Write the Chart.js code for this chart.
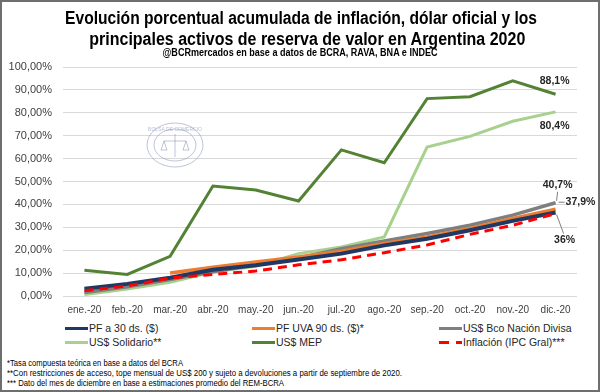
<html>
<head>
<meta charset="utf-8">
<title>Inflación y activos 2020</title>
<script src="https://cdn.jsdelivr.net/npm/chart.js"></script>
<style>
	body { margin: 0; width: 600px; height: 392px; position: relative; background: #fff; overflow: hidden; font-family: "Liberation Sans", Arial, sans-serif; }
	#frame { position: absolute; left: 0; top: 0; width: 600px; height: 392px; box-sizing: border-box; border: 2px solid #6e6e6e; pointer-events: none; }
	canvas { position: absolute; left: 0; top: 0; }
	.fit { position: absolute; white-space: nowrap; }
	.title { font-family: "Liberation Sans Narrow", "Liberation Sans", sans-serif; font-weight: bold; font-size: 18px; line-height: 20px; color: #000; transform-origin: center; }
	.sub { font-family: "Liberation Sans Narrow", "Liberation Sans", sans-serif; font-weight: bold; font-size: 10px; line-height: 12px; color: #000; transform-origin: center; }
	.note { font-family: "Liberation Sans Narrow", "Liberation Sans", sans-serif; font-size: 8.5px; line-height: 10px; color: #000; left: 7px; transform-origin: left; }
	.leg { position: absolute; font-size: 10.5px; line-height: 12px; color: #262626; white-space: nowrap; }
	.sw { position: absolute; height: 3px; }
</style>
</head>
<body>
	<canvas id="chart" width="600" height="322"></canvas>
	<div class="fit title" data-w="472" data-cx="301" style="top:8px">Evolución porcentual acumulada de inflación, dólar oficial y los</div>
	<div class="fit title" data-w="436" data-cx="307" style="top:29px">principales activos de reserva de valor en Argentina 2020</div>
	<div class="fit sub" data-w="275" data-cx="300" style="top:47px">@BCRmercados en base a datos de BCRA, RAVA, BNA e INDEC</div>
	<div id="legend"></div>
	<div class="fit note" data-w="176" style="top:358px">*Tasa compuesta teórica en base a datos del BCRA</div>
	<div class="fit note" data-w="395" style="top:368px">**Con restricciones de acceso, tope mensual de US$ 200 y sujeto a devoluciones  a partir de septiembre de 2020.</div>
	<div class="fit note" data-w="277" style="top:378px">*** Dato del mes de diciembre en base a estimaciones promedio del REM-BCRA</div>
	<div id="frame"></div>
<script>
	// valores en % acumulado en el año
	const months = ['ene.-20', 'feb.-20', 'mar.-20', 'abr.-20', 'may.-20', 'jun.-20', 'jul.-20', 'ago.-20', 'sep.-20', 'oct.-20', 'nov.-20', 'dic.-20'];
	const pf30 = [3.2, 5.3, 8.0, 11.5, 13.4, 15.9, 18.5, 22.1, 25.0, 28.7, 32.8, 36.5];
	const pfUva = [null, null, 10.0, 12.6, 14.8, 17.0, 19.6, 22.9, 25.8, 29.5, 33.9, 37.9];
	const bcoNacion = [1.5, 4.0, 7.2, 10.6, 13.6, 16.6, 20.7, 24.0, 27.3, 30.9, 35.3, 40.7];
	const solidario = [0.6, 3.1, 6.0, 10.5, 13.0, 18.5, 21.4, 25.8, 65.0, 69.7, 76.3, 80.4];
	const mep = [11.2, 9.4, 17.3, 48.0, 46.3, 41.5, 63.8, 58.2, 86.2, 87.0, 94.0, 88.1];
	const inflacion = [2.3, 4.4, 7.8, 9.4, 10.9, 13.6, 15.8, 18.9, 22.3, 26.9, 30.9, 36.0];
	const seriesNames = ['PF a 30 ds. ($)', 'PF UVA 90 ds. ($)*', 'US$ Bco Nación Divisa', 'US$ Solidario**', 'US$ MEP', 'Inflación (IPC Gral)***'];
	const endLabels = ['36%', '37,9%', '40,7%', '80,4%', '88,1%'];
	const yMax = 100;
	const yStep = 10;

	const endLabelPlugin = {
		id: 'endLabels',
		afterDatasetsDraw(chart) {
			const ctx = chart.ctx;
			const x = chart.scales.x.getPixelForValue(months.length - 1);
			const y = chart.scales.y;
			ctx.save();
			ctx.font = 'bold 10.5px "Liberation Sans", Arial, sans-serif';
			ctx.fillStyle = '#262626';
			ctx.textBaseline = 'middle';
			ctx.textAlign = 'center';
			ctx.fillText(endLabels[4], x - 1, y.getPixelForValue(mep[11]) - 13);
			ctx.fillText(endLabels[3], x - 1, y.getPixelForValue(solidario[11]) + 14);
			ctx.fillText(endLabels[2], x + 2, y.getPixelForValue(bcoNacion[11]) - 18);
			ctx.fillText(endLabels[0], x + 9, y.getPixelForValue(inflacion[11]) + 27);
			ctx.textAlign = 'left';
			ctx.fillText(endLabels[1], x + 10, y.getPixelForValue(pfUva[11]) - 7);
			// lineas guia
			ctx.strokeStyle = '#7f7f7f';
			ctx.lineWidth = 1;
			ctx.beginPath();
			let yb = y.getPixelForValue(bcoNacion[11]);
			ctx.moveTo(x + 2, yb - 11); ctx.lineTo(x + 1, yb - 2);
			let yo = y.getPixelForValue(pfUva[11]) - 7;
			ctx.moveTo(x + 3, yo); ctx.lineTo(x + 9, yo);
			let yi = y.getPixelForValue(inflacion[11]);
			ctx.moveTo(x + 1, yi + 1); ctx.lineTo(x + 8, yi + 20);
			ctx.stroke();
			ctx.restore();
		}
	};

	// sello de agua de la Bolsa de Comercio de Rosario (aprox.)
	const sealPlugin = {
		id: 'seal',
		beforeDatasetsDraw(chart) {
			const ctx = chart.ctx;
			ctx.save();
			ctx.strokeStyle = 'rgba(110, 125, 165, 0.45)';
			ctx.lineWidth = 1;
			ctx.beginPath(); ctx.ellipse(175, 145, 28, 22, 0, 0, Math.PI * 2); ctx.stroke();
			ctx.beginPath(); ctx.ellipse(175, 145, 21, 16, 0, 0, Math.PI * 2); ctx.stroke();
			ctx.beginPath();
			ctx.moveTo(175, 134); ctx.lineTo(175, 157);
			ctx.moveTo(164, 141); ctx.lineTo(186, 141);
			ctx.moveTo(164, 141); ctx.lineTo(161, 150); ctx.lineTo(167, 150); ctx.closePath();
			ctx.moveTo(186, 141); ctx.lineTo(183, 150); ctx.lineTo(189, 150); ctx.closePath();
			ctx.stroke();
			ctx.font = '5px "Liberation Sans", Arial, sans-serif';
			ctx.fillStyle = 'rgba(110, 125, 165, 0.5)';
			ctx.textAlign = 'center';
			ctx.fillText('BOLSA DE COMERCIO', 175, 131);
			ctx.restore();
		}
	};

	const chart = new Chart(document.getElementById('chart'), {
		type: 'line',
		data: {
			labels: months,
			datasets: [
				{ label: seriesNames[0], data: pf30, borderColor: '#1f3864', borderWidth: 4, order: 1 },
				{ label: seriesNames[1], data: pfUva, borderColor: '#ed7d31', borderWidth: 3.5, order: 2 },
				{ label: seriesNames[2], data: bcoNacion, borderColor: '#7f7f7f', borderWidth: 3.5, order: 3 },
				{ label: seriesNames[3], data: solidario, borderColor: '#a9d18e', borderWidth: 3, order: 4 },
				{ label: seriesNames[4], data: mep, borderColor: '#548235', borderWidth: 3, order: 5 },
				{ label: seriesNames[5], data: inflacion, borderColor: '#ff0000', borderWidth: 3, borderDash: [9, 6], order: 0 }
			]
		},
		options: {
			responsive: false,
			animation: false,
			devicePixelRatio: 1,
			elements: { point: { radius: 0 }, line: { tension: 0, borderCapStyle: 'butt' } },
			layout: { padding: { top: 67, left: 5, right: 23, bottom: 0 } },
			plugins: { legend: { display: false }, title: { display: false }, tooltip: { enabled: false } },
			scales: {
				x: {
					offset: true,
					grid: { display: false, drawTicks: false },
					border: { display: false },
					ticks: { padding: 8, color: '#404040', font: { size: 10, family: '"Liberation Sans", Arial, sans-serif' }, maxRotation: 0, autoSkip: false },
					afterFit(scale) { scale.height = 26; }
				},
				y: {
					min: 0,
					max: yMax,
					grid: { color: '#d9d9d9', drawTicks: false },
					border: { display: false },
					ticks: {
						stepSize: yStep,
						padding: 11,
						color: '#404040',
						font: { size: 11, family: '"Liberation Sans", Arial, sans-serif' },
						callback: v => v.toFixed(2).replace('.', ',') + '%'
					},
					afterFit(scale) { scale.width = 58; }
				}
			}
		},
		plugins: [sealPlugin, endLabelPlugin]
	});

	// leyenda en 3 columnas, como en el original
	const legend = document.getElementById('legend');
	const colX = [65, 252, 439];
	const rowY = [328, 342];
	chart.data.datasets.forEach((ds, i) => {
		const cx = colX[i % 3];
		const cy = rowY[Math.floor(i / 3)];
		if (ds.borderDash) {
			legend.insertAdjacentHTML('beforeend',
				`<div class="sw" style="left:${cx}px;top:${cy - 1}px;width:10px;background:${ds.borderColor}"></div>` +
				`<div class="sw" style="left:${cx + 17}px;top:${cy - 1}px;width:6px;background:${ds.borderColor}"></div>`);
		} else {
			legend.insertAdjacentHTML('beforeend',
				`<div class="sw" style="left:${cx}px;top:${cy - 1}px;width:23px;background:${ds.borderColor}"></div>`);
		}
		legend.insertAdjacentHTML('beforeend',
			`<div class="leg" style="left:${cx + 24}px;top:${cy - 6}px">${ds.label}</div>`);
	});

	// ajustar ancho de los textos condensados
	document.querySelectorAll('.fit').forEach(el => {
		const w = el.getBoundingClientRect().width;
		const target = +el.dataset.w;
		if (el.dataset.cx) el.style.left = (+el.dataset.cx - w / 2) + 'px';
		el.style.transform = `scaleX(${target / w})`;
	});
</script>
</body>
</html>
